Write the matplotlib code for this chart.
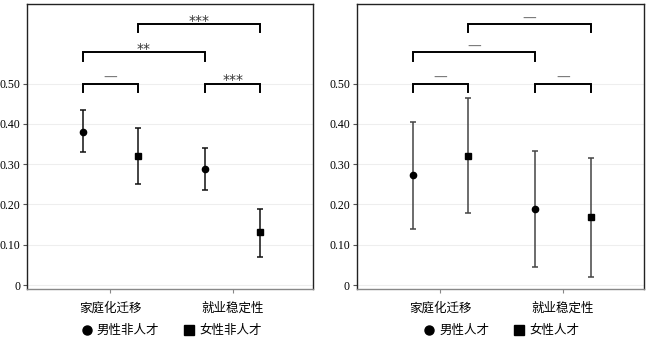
import numpy as np
import matplotlib.pyplot as plt
from matplotlib.lines import Line2D

plt.rcParams['font.family'] = ['Noto Sans CJK SC', 'DejaVu Sans']

categories = ['家庭化迁移', '就业稳定性']
yticks = [0, 0.1, 0.2, 0.3, 0.4, 0.5]
ytick_labels = ['0', '0.10', '0.20', '0.30', '0.40', '0.50']

# 非人才
nt_male = [0.380, 0.288]
nt_male_lo = [0.329, 0.237]
nt_male_hi = [0.435, 0.341]
nt_female = [0.320, 0.131]
nt_female_lo = [0.252, 0.071]
nt_female_hi = [0.390, 0.190]
nt_sig = ['—', '***', '**', '***']  # 组内家庭化, 组内就业, 男性跨维度, 女性跨维度

# 人才
t_male = [0.272, 0.189]
t_male_lo = [0.138, 0.044]
t_male_hi = [0.404, 0.333]
t_female = [0.321, 0.168]
t_female_lo = [0.178, 0.019]
t_female_hi = [0.465, 0.315]
t_sig = ['—', '—', '—', '—']

x = np.arange(1, len(categories) + 1)
off = 0.225


def bracket(ax, x1, x2, y, label, h=0.02):
    ax.plot([x1, x1, x2, x2], [y - h, y, y, y - h], color='black', lw=1.4,
            solid_joinstyle='miter', clip_on=False)
    if label == '—':
        ax.text((x1 + x2) / 2, y + 0.004, label, ha='center', va='baseline',
                fontsize=10, color='#777777', family='DejaVu Sans')
    else:
        ax.text((x1 + x2) / 2, y - 0.002, label, ha='center', va='baseline',
                fontsize=10, color='#333333', family='DejaVu Sans')


def panel(ax, male, mlo, mhi, female, flo, fhi, sig, ecolor, leg):
    m = np.array(male)
    f = np.array(female)
    ax.errorbar(x - off, m, yerr=[m - np.array(mlo), np.array(mhi) - m], fmt='o',
                color='black', ecolor=ecolor, elinewidth=1.1, capsize=2, capthick=1.1,
                markersize=4.5)
    ax.errorbar(x + off, f, yerr=[f - np.array(flo), np.array(fhi) - f], fmt='s',
                color='black', ecolor=ecolor, elinewidth=1.1, capsize=2, capthick=1.1,
                markersize=4.2)
    bracket(ax, x[0] - off, x[0] + off, 0.50, sig[0])
    bracket(ax, x[1] - off, x[1] + off, 0.50, sig[1])
    bracket(ax, x[0] - off, x[1] - off, 0.577, sig[2])
    bracket(ax, x[0] + off, x[1] + off, 0.647, sig[3])

    ax.set_xlim(0.32, 2.66)
    ax.set_ylim(-0.01, 0.697)
    ax.set_xticks(x)
    ax.set_xticklabels(categories, fontsize=9)
    ax.set_yticks(yticks)
    ax.set_yticklabels(ytick_labels, fontsize=8.5, family='Liberation Serif')
    ax.grid(axis='y', color='#eeeeee', lw=0.8)
    ax.set_axisbelow(True)
    for s in ['top', 'left', 'right']:
        ax.spines[s].set_color('#222222')
    ax.spines['bottom'].set_color('#888888')
    for s in ax.spines.values():
        s.set_linewidth(1.0)
    ax.tick_params(axis='y', length=3, color='#555555', pad=2)
    ax.tick_params(axis='x', length=3, color='#888888', pad=6)

    handles = [Line2D([], [], marker='o', color='black', ls='', markersize=6.5),
               Line2D([], [], marker='s', color='black', ls='', markersize=6.5)]
    ax.legend(handles, leg, loc='center', bbox_to_anchor=(0.5, -0.145), ncol=2,
              frameon=False, fontsize=9, handletextpad=0.2, columnspacing=1.8,
              handlelength=1.2, borderaxespad=0, borderpad=0)


fig = plt.figure(figsize=(6.5, 3.39), dpi=100)
ax1 = fig.add_axes([0.042, 0.147, 0.44, 0.841])
ax2 = fig.add_axes([0.549, 0.147, 0.442, 0.841])

panel(ax1, nt_male, nt_male_lo, nt_male_hi, nt_female, nt_female_lo, nt_female_hi,
      nt_sig, '#111111', ['男性非人才', '女性非人才'])
panel(ax2, t_male, t_male_lo, t_male_hi, t_female, t_female_lo, t_female_hi,
      t_sig, '#444444', ['男性人才', '女性人才'])

fig.savefig('out.png', dpi=100)
